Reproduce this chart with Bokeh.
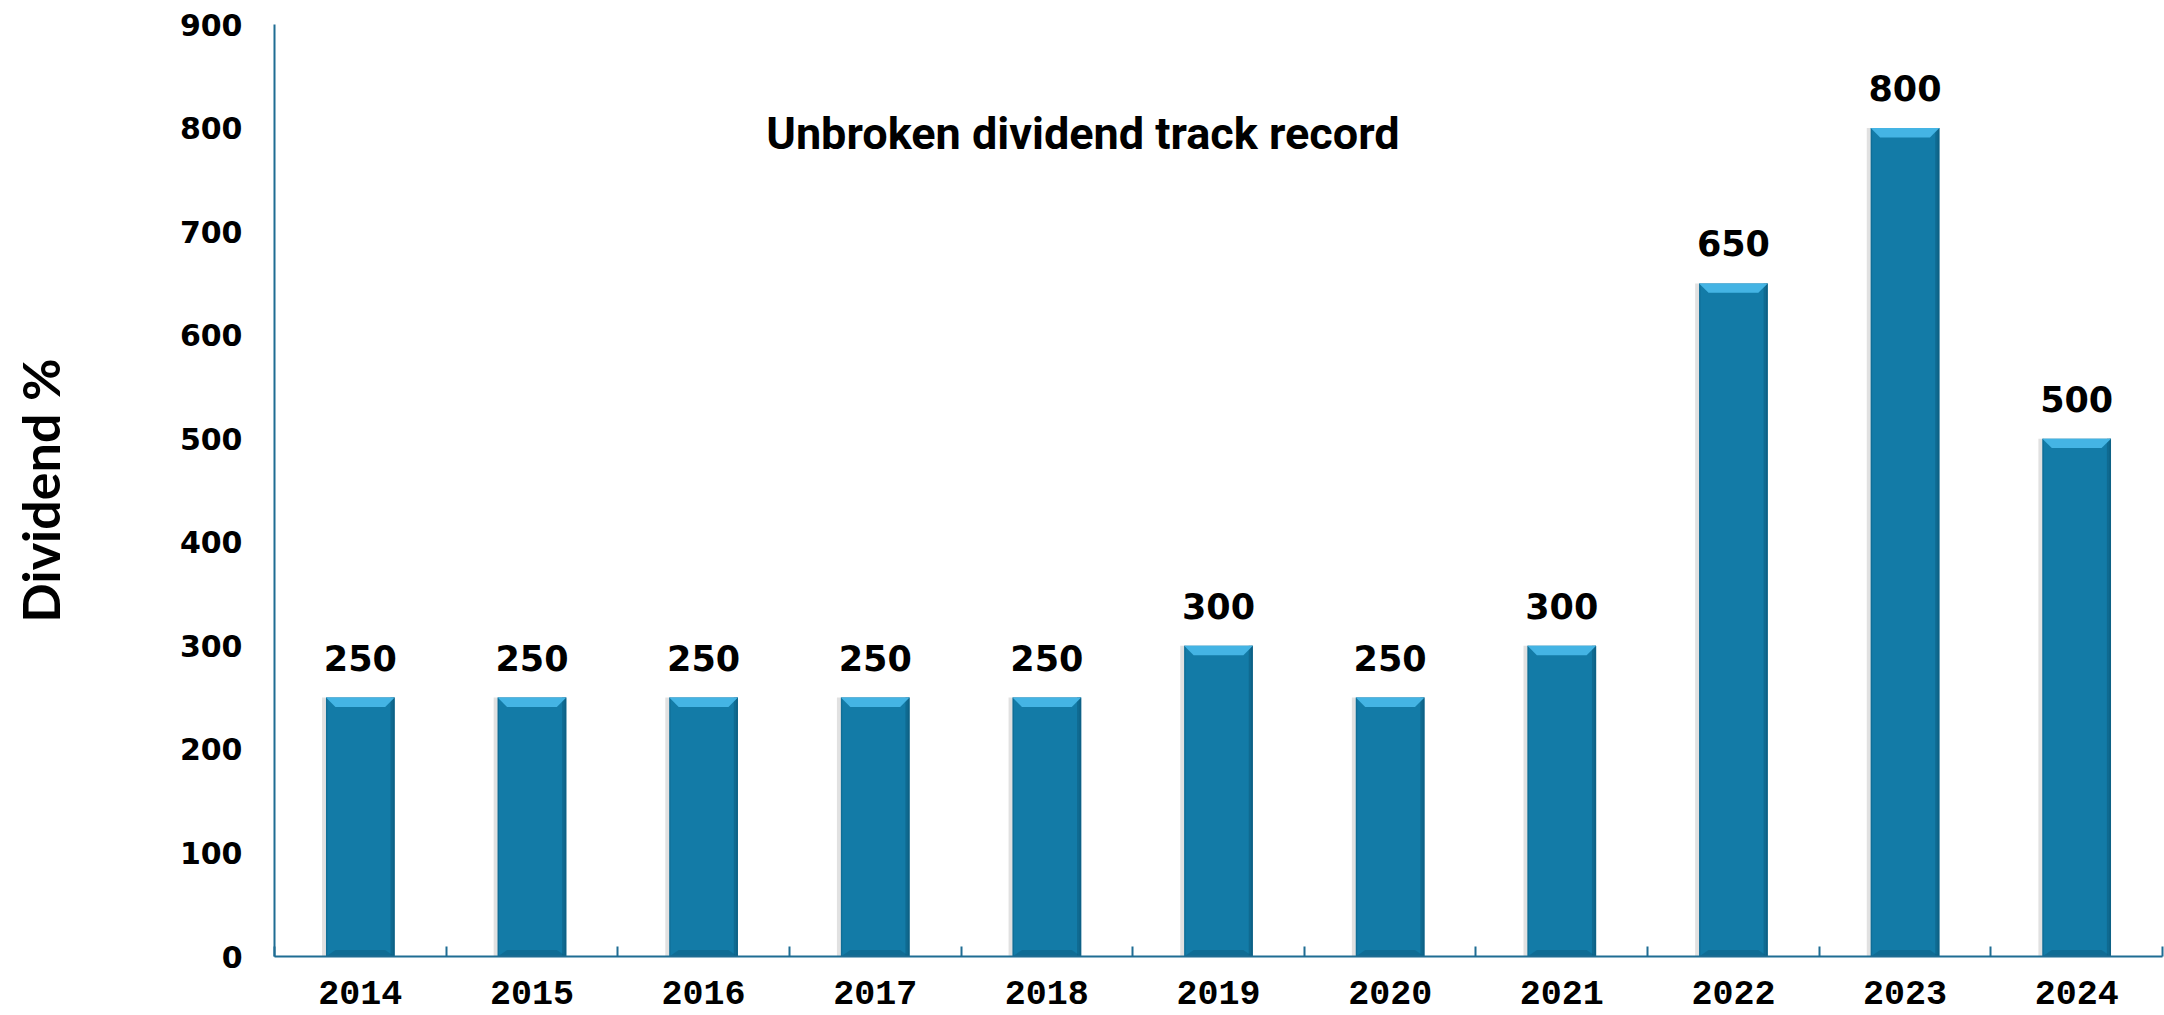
from bokeh.plotting import figure
from bokeh.models import FixedTicker, CustomJSTickFormatter, Range1d, Label, ColumnDataSource
from bokeh.core.properties import value
from bokeh.embed import file_html
from bokeh.resources import INLINE

years = ["2014", "2015", "2016", "2017", "2018", "2019", "2020", "2021", "2022", "2023", "2024"]
dividends = [250, 250, 250, 250, 250, 300, 250, 300, 650, 800, 500]
y_ticks = [0, 100, 200, 300, 400, 500, 600, 700, 800, 900]
title_text = "Unbroken dividend track record"
y_label = "Dividend %"

n = len(years)
xs = [i + 0.5 for i in range(n)]
labels = [str(v) for v in dividends]

BAR_W = 0.40
MAIN = "#137ba7"
LIGHT = "#44b4e4"
DARK = "#0d5c7f"
AXIS = "#1f6d93"

p = figure(width=2164, height=1015, output_backend="svg", toolbar_location=None,
           x_range=Range1d(0, n), y_range=Range1d(0, 900),
           min_border_left=274, min_border_right=2, min_border_top=24, min_border_bottom=59)
p.outline_line_color = None
p.xgrid.visible = False
p.ygrid.visible = False
p.background_fill_color = "white"
p.border_fill_color = "white"

# shadow
p.vbar(x=[x - 0.018 for x in xs], top=dividends, width=BAR_W + 0.01, bottom=0,
       fill_color="#bdbdbd", fill_alpha=0.45, line_color=None)
# main bars
p.vbar(x=xs, top=dividends, width=BAR_W, bottom=0, fill_color=MAIN, line_color=None)
# right darker edge
p.vbar(x=[x + BAR_W / 2 - 0.012 for x in xs], top=dividends, width=0.024, bottom=0,
       fill_color=DARK, fill_alpha=0.55, line_color=None)
p.vbar(x=[x + BAR_W / 2 - 0.005 for x in xs], top=dividends, width=0.01, bottom=0,
       fill_color=DARK, fill_alpha=0.6, line_color=None)
# left thin edge
p.vbar(x=[x - BAR_W / 2 + 0.004 for x in xs], top=dividends, width=0.008, bottom=0,
       fill_color=DARK, fill_alpha=0.4, line_color=None)

# top bevel
bh = 9.0
bd = 0.055
top_x = [[x - BAR_W / 2, x + BAR_W / 2, x + BAR_W / 2 - bd, x - BAR_W / 2 + bd] for x in xs]
top_y = [[v, v, v - bh, v - bh] for v in dividends]
p.patches(top_x, top_y, fill_color=LIGHT, line_color=None)
# bottom bevel
bot_y = [[0, 0, bh * 0.7, bh * 0.7] for v in dividends]
p.patches(top_x, bot_y, fill_color=DARK, fill_alpha=0.45, line_color=None)

# value labels
src = ColumnDataSource(dict(x=xs, y=dividends, t=labels))
p.text(x="x", y="y", text="t", source=src, text_align="center", text_baseline="alphabetic",
       y_offset=-40, text_font=value("DejaVu Sans"), text_font_style="bold",
       text_font_size="35px", text_color="black")

# x axis
xa = p.xaxis[0]
xa.ticker = FixedTicker(ticks=xs, minor_ticks=list(range(n + 1)))
xa.formatter = CustomJSTickFormatter(args=dict(labels=years), code="return labels[Math.floor(tick)];")
xa.major_tick_line_color = None
xa.minor_tick_line_color = AXIS
xa.minor_tick_line_width = 2
xa.minor_tick_in = 10
xa.minor_tick_out = 0
xa.axis_line_color = AXIS
xa.axis_line_width = 2
xa.major_label_text_font = "Liberation Mono"
xa.major_label_text_font_style = "bold"
xa.major_label_text_font_size = "35px"
xa.major_label_text_color = "black"
xa.major_label_standoff = 18

# y axis
ya = p.yaxis[0]
ya.ticker = FixedTicker(ticks=y_ticks)
ya.major_tick_line_color = None
ya.minor_tick_line_color = None
ya.major_tick_out = 0
ya.major_tick_in = 0
ya.axis_line_color = AXIS
ya.axis_line_width = 2
ya.major_label_text_font = "DejaVu Sans"
ya.major_label_text_font_style = "bold"
ya.major_label_text_font_size = "30px"
ya.major_label_text_color = "black"
ya.major_label_standoff = 32
ya.axis_label = y_label
ya.axis_label_text_font = "Lato"
ya.axis_label_text_font_style = "bold"
ya.axis_label_text_font_size = "52px"
ya.axis_label_text_color = "black"
ya.axis_label_standoff = 106

p.add_layout(Label(x=4.71, y=795, text=title_text, text_align="center", text_baseline="alphabetic",
                   text_font="Roboto", text_font_style="bold", text_font_size="45px",
                   text_color="black"))

open("out.html", "w").write(file_html(p, INLINE))
